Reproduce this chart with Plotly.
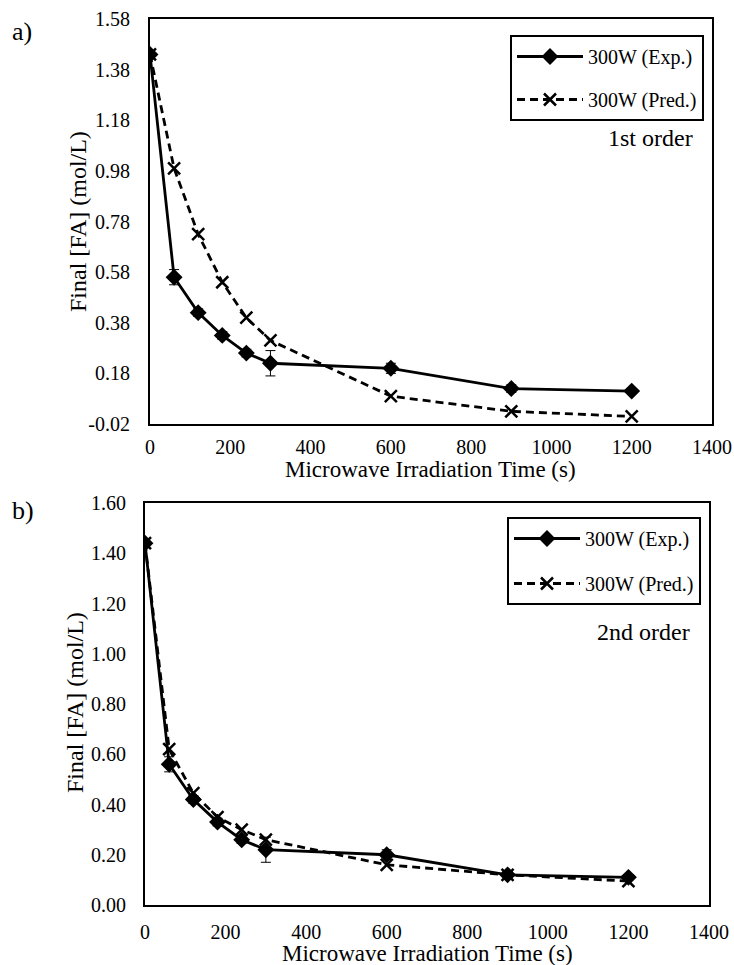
import plotly.graph_objects as go

time_s = [0, 60, 120, 180, 240, 300, 600, 900, 1200]
exp_fa = [1.44, 0.56, 0.42, 0.33, 0.26, 0.22, 0.20, 0.12, 0.11]
exp_err = [0.01, 0.03, 0.015, 0.015, 0.015, 0.05, 0.02, 0.015, 0.01]
pred_first = [1.44, 0.99, 0.73, 0.54, 0.40, 0.31, 0.09, 0.03, 0.01]
pred_second = [1.44, 0.62, 0.445, 0.35, 0.30, 0.26, 0.16, 0.12, 0.095]

top_ticks = [-0.02, 0.18, 0.38, 0.58, 0.78, 0.98, 1.18, 1.38, 1.58]
bot_ticks = [0.0, 0.2, 0.4, 0.6, 0.8, 1.0, 1.2, 1.4, 1.6]
x_ticks = [0, 200, 400, 600, 800, 1000, 1200, 1400]

FONT = "Liberation Serif"
W, H = 734, 965

fig = go.Figure()

def add_panel(pred, xa, ya, legend):
    fig.add_trace(go.Scatter(
        x=time_s, y=exp_fa, xaxis=xa, yaxis=ya, legend=legend,
        name="300W (Exp.)", legendgroup=legend + "a", mode="lines+markers",
        line=dict(color="black", width=2.8),
        marker=dict(symbol="diamond", size=13, color="black"),
        error_y=dict(type="data", array=exp_err, color="black", thickness=1, width=5),
    ))
    fig.add_trace(go.Scatter(
        x=time_s, y=pred, xaxis=xa, yaxis=ya, legend=legend,
        name="300W (Pred.)", legendgroup=legend + "b", mode="lines+markers",
        line=dict(color="black", width=2.8, dash="8px,5px"),
        marker=dict(symbol="x-thin-open", size=12, color="black", line=dict(width=2.5, color="black")),
    ))

add_panel(pred_first, "x", "y", "legend")
add_panel(pred_second, "x2", "y2", "legend2")

axis_common = dict(showgrid=False, zeroline=False, showline=True, linecolor="black",
                   linewidth=2, mirror=True, ticks="", automargin=False,
                   tickfont=dict(family=FONT, size=20, color="black"))

leg_font = dict(family=FONT, size=20, color="black")
fig.update_layout(
    template="none",
    width=W, height=H,
    margin=dict(l=0, r=0, t=0, b=0, autoexpand=False),
    paper_bgcolor="white", plot_bgcolor="white",
    font=dict(family=FONT, color="black"),
    xaxis=dict(domain=[150 / W, 712 / W], range=[0, 1400], tickvals=x_ticks,
               anchor="y", ticklabelstandoff=4, **axis_common),
    yaxis=dict(domain=[1 - 424 / H, 1 - 19 / H], range=[-0.02, 1.58], tickvals=top_ticks,
               ticktext=[f"{v:.2f}" for v in top_ticks], anchor="x",
               ticklabelstandoff=14, **axis_common),
    xaxis2=dict(domain=[145 / W, 709 / W], range=[0, 1400], tickvals=x_ticks,
                anchor="y2", ticklabelstandoff=8, **axis_common),
    yaxis2=dict(domain=[1 - 905 / H, 1 - 503 / H], range=[0, 1.6], tickvals=bot_ticks,
                ticktext=[f"{v:.2f}" for v in bot_ticks], anchor="x2",
                ticklabelstandoff=13, **axis_common),
    legend=dict(x=704 / W, y=1 - 35 / H, xanchor="right", yanchor="top",
                bordercolor="black", borderwidth=2, bgcolor="white", font=leg_font,
                itemwidth=66, tracegroupgap=14, traceorder="grouped"),
    legend2=dict(x=701 / W, y=1 - 517 / H, xanchor="right", yanchor="top",
                 bordercolor="black", borderwidth=2, bgcolor="white", font=leg_font,
                 itemwidth=66, tracegroupgap=16, traceorder="grouped"),
    showlegend=True,
)

title_font = dict(family=FONT, size=23, color="black")
annotations = [
    dict(text="a)", x=10 / W, y=1 - 32 / H, xanchor="left", yanchor="middle",
         font=dict(family=FONT, size=26, color="black")),
    dict(text="b)", x=10 / W, y=1 - 510 / H, xanchor="left", yanchor="middle",
         font=dict(family=FONT, size=26, color="black")),
    dict(text="1st order", x=695 / W, y=1 - 138 / H, xanchor="right", yanchor="middle",
         font=dict(family=FONT, size=24, color="black")),
    dict(text="2nd order", x=692 / W, y=1 - 632 / H, xanchor="right", yanchor="middle",
         font=dict(family=FONT, size=24, color="black")),
    dict(text="Microwave Irradiation Time (s)", x=431 / W, y=1 - 470 / H,
         xanchor="center", yanchor="middle", font=title_font),
    dict(text="Microwave Irradiation Time (s)", x=427 / W, y=1 - 953 / H,
         xanchor="center", yanchor="middle", font=title_font),
    dict(text="Final [FA] (mol/L)", x=78 / W, y=1 - 222 / H, textangle=-90,
         xanchor="center", yanchor="middle", font=dict(family=FONT, size=24, color="black")),
    dict(text="Final [FA] (mol/L)", x=75 / W, y=1 - 703 / H, textangle=-90,
         xanchor="center", yanchor="middle", font=dict(family=FONT, size=24, color="black")),
]
for a in annotations:
    a.update(xref="paper", yref="paper", showarrow=False)
fig.update_layout(annotations=annotations)

fig.write_html("out.html")
